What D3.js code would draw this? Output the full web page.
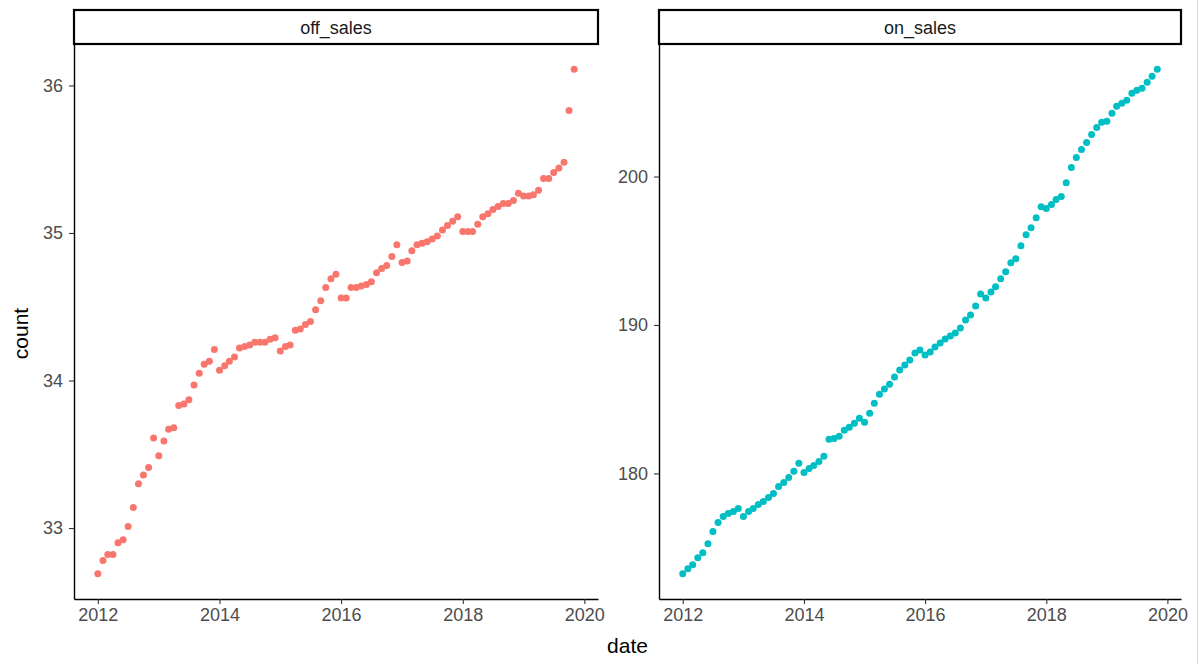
<!DOCTYPE html>
<html>
<head>
<meta charset="utf-8">
<script src="https://cdn.jsdelivr.net/npm/d3@7"></script>
<style>
  body { margin: 0; background: #fff; }
  svg { display: block; font-family: Arial, "Liberation Sans", sans-serif; }
</style>
</head>
<body>
<svg id="chart" width="1199" height="664"></svg>
<script>
// monthly observations, 2012-01 .. 2019-11
const months = d3.timeMonth.range(new Date(2012, 0, 1), new Date(2019, 11, 1));

const facets = ['off_sales', 'on_sales'];

const offSales = [
  32.69, 32.78, 32.82, 32.82, 32.90, 32.92, 33.01, 33.14, 33.30, 33.36, 33.41, 33.61,
  33.49, 33.59, 33.67, 33.68, 33.83, 33.84, 33.87, 33.97, 34.05, 34.11, 34.13, 34.21,
  34.07, 34.10, 34.13, 34.16, 34.22, 34.23, 34.24, 34.26, 34.26, 34.26, 34.28, 34.29,
  34.20, 34.23, 34.24, 34.34, 34.35, 34.38, 34.40, 34.48, 34.54, 34.63, 34.69, 34.72,
  34.56, 34.56, 34.63, 34.63, 34.64, 34.65, 34.67, 34.73, 34.76, 34.78, 34.84, 34.92,
  34.80, 34.81, 34.88, 34.92, 34.93, 34.94, 34.96, 34.98, 35.02, 35.05, 35.08, 35.11,
  35.01, 35.01, 35.01, 35.06, 35.11, 35.13, 35.16, 35.18, 35.20, 35.20, 35.22, 35.27,
  35.25, 35.25, 35.26, 35.29, 35.37, 35.37, 35.41, 35.44, 35.48, 35.83, 36.11
];

const onSales = [
  173.24, 173.58, 173.85, 174.32, 174.66, 175.27, 176.08, 176.69, 177.09, 177.30, 177.43, 177.64,
  177.09, 177.43, 177.64, 177.91, 178.11, 178.38, 178.65, 179.12, 179.39, 179.73, 180.14, 180.68,
  180.07, 180.34, 180.54, 180.81, 181.15, 182.30, 182.36, 182.50, 182.91, 183.11, 183.38, 183.72,
  183.45, 184.05, 184.73, 185.34, 185.68, 186.01, 186.49, 186.96, 187.30, 187.64, 188.11, 188.31,
  187.97, 188.18, 188.51, 188.78, 189.05, 189.26, 189.46, 189.80, 190.34, 190.68, 191.28, 192.09,
  191.82, 192.23, 192.57, 193.11, 193.58, 194.19, 194.46, 195.34, 196.08, 196.55, 197.23, 197.97,
  197.84, 198.11, 198.45, 198.65, 199.59, 200.61, 201.28, 201.82, 202.30, 202.84, 203.31, 203.65,
  203.72, 204.26, 204.73, 204.93, 205.14, 205.61, 205.81, 205.95, 206.35, 206.76, 207.23
];

const offTicks = [33, 34, 35, 36];
const onTicks = [180, 190, 200];
const yearTicks = [2012, 2014, 2016, 2018, 2020];

const colours = ['#F8766D', '#00BFC4'];

const svg = d3.select('#chart');

const panelTop = 44, panelBottom = 599;
const panels = [
  { name: facets[0], x0: 74, x1: 598, values: offSales, ticks: offTicks, colour: colours[0] },
  { name: facets[1], x0: 659, x1: 1181, values: onSales, ticks: onTicks, colour: colours[1] },
];

// ggplot style 5% expansion of a continuous domain
function expand([lo, hi], f = 0.05) {
  const pad = (hi - lo) * f;
  return [lo - pad, hi + pad];
}

const timeExt = d3.extent(months).map(d => +d);
const timeDom = expand(timeExt).map(t => new Date(t));

panels.forEach(p => {
  const x = d3.scaleTime().domain(timeDom).range([p.x0, p.x1]);
  const y = d3.scaleLinear().domain(expand(d3.extent(p.values))).range([panelBottom, panelTop]);

  // Strip

  svg.append('rect')
    .attr('x', p.x0)
    .attr('y', 10)
    .attr('width', p.x1 - p.x0)
    .attr('height', panelTop - 10)
    .attr('fill', '#fff')
    .attr('stroke', '#000')
    .attr('stroke-width', 2.2);

  svg.append('text')
    .attr('x', (p.x0 + p.x1) / 2)
    .attr('y', 28)
    .attr('dy', '0.35em')
    .attr('text-anchor', 'middle')
    .attr('font-size', 18)
    .attr('fill', '#1a1a1a')
    .text(p.name);

  // Axes

  const xAxis = d3.axisBottom(x)
    .tickValues(yearTicks.map(yr => new Date(yr, 0, 1)))
    .tickFormat(d3.timeFormat('%Y'))
    .tickSize(5)
    .tickPadding(4)
    .tickSizeOuter(0);

  const yAxis = d3.axisLeft(y)
    .tickValues(p.ticks)
    .tickFormat(d3.format('d'))
    .tickSize(5)
    .tickPadding(6)
    .tickSizeOuter(0);

  [[xAxis, `translate(0,${panelBottom})`], [yAxis, `translate(${p.x0},0)`]].forEach(([ax, tr]) => {
    const g = svg.append('g').attr('transform', tr).call(ax);
    g.select('.domain').attr('stroke', '#000').attr('stroke-width', 1.4);
    g.selectAll('.tick line').attr('stroke', '#333').attr('stroke-width', 1.1);
    g.selectAll('.tick text')
      .attr('font-size', 18)
      .attr('fill', '#4d4d4d')
      .attr('font-family', 'Arial, "Liberation Sans", sans-serif');
  });

  // Points

  svg.append('g')
    .selectAll('circle')
    .data(p.values)
    .join('circle')
    .attr('cx', (d, i) => x(months[i]))
    .attr('cy', d => y(d))
    .attr('r', 3.5)
    .attr('fill', p.colour);
});

// Axis titles

svg.append('text')
  .attr('x', (panels[0].x0 + panels[1].x1) / 2)
  .attr('y', 646)
  .attr('dy', '0.35em')
  .attr('text-anchor', 'middle')
  .attr('font-size', 21)
  .attr('fill', '#000')
  .text('date');

svg.append('text')
  .attr('transform', `translate(21,${(panelTop + panelBottom) / 2 + 12}) rotate(-90)`)
  .attr('dy', '0.35em')
  .attr('text-anchor', 'middle')
  .attr('font-size', 21)
  .attr('fill', '#000')
  .text('count');

// faint frame line on the right edge of the picture
svg.append('line')
  .attr('x1', 1197.5).attr('x2', 1197.5)
  .attr('y1', 0).attr('y2', 664)
  .attr('stroke', '#d9d9d9');
</script>
</body>
</html>
